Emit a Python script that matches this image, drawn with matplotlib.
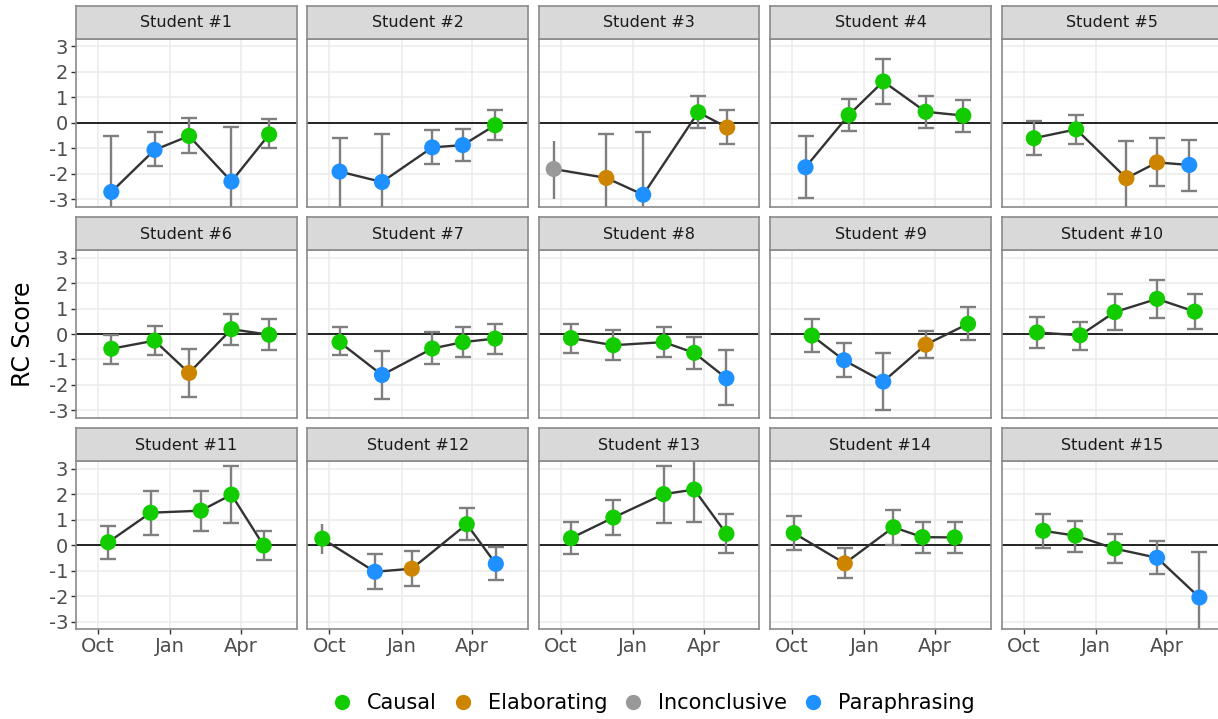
import matplotlib
matplotlib.use("Agg")
import matplotlib.pyplot as plt
from matplotlib.lines import Line2D
import numpy as np
import pandas as pd

# ---------------------------------------------------------------- data
students = [f"Student #{i}" for i in range(1, 16)]

# Session dates used by each class group
schedules = {
    "A": ["2018-10-18", "2018-12-12", "2019-01-25", "2019-03-20", "2019-05-07"],
    "B": ["2018-10-14", "2018-12-07", "2019-02-09", "2019-03-20", "2019-04-30"],
    "C": ["2018-09-22", "2018-11-28", "2019-01-14", "2019-03-25", "2019-05-01"],
    "D": ["2018-10-26", "2018-12-06", "2019-01-25", "2019-03-20", "2019-05-13"],
    "E": ["2018-10-03", "2018-12-07", "2019-02-07", "2019-03-16", "2019-04-26"],
}
student_schedule = ["A", "B", "C", "A", "B", "A", "B", "B", "D", "A",
                    "B", "C", "B", "E", "D"]

rc_score = [
    [-2.72, -1.07, -0.52, -2.31, -0.46],
    [-1.92, -2.33, -0.97, -0.88, -0.10],
    [-1.82, -2.17, -2.83, 0.41, -0.19],
    [-1.75, 0.30, 1.62, 0.43, 0.28],
    [-0.61, -0.26, -2.18, -1.56, -1.66],
    [-0.58, -0.26, -1.53, 0.19, -0.03],
    [-0.32, -1.61, -0.57, -0.32, -0.18],
    [-0.16, -0.44, -0.32, -0.74, -1.74],
    [-0.06, -1.03, -1.87, -0.42, 0.40],
    [0.06, -0.05, 0.86, 1.38, 0.88],
    [0.12, 1.28, 1.36, 1.99, -0.01],
    [0.26, -1.04, -0.92, 0.83, -0.73],
    [0.28, 1.09, 2.01, 2.19, 0.45],
    [0.48, -0.71, 0.71, 0.32, 0.31],
    [0.57, 0.38, -0.13, -0.49, -2.05],
]
ci_low = [
    [-4.92, -1.69, -1.19, -4.45, -1.01],
    [-3.40, -4.20, -1.62, -1.52, -0.68],
    [-2.98, -3.91, -5.29, -0.19, -0.82],
    [-2.96, -0.33, 0.75, -0.22, -0.37],
    [-1.26, -0.84, -3.64, -2.47, -2.70],
    [-1.16, -0.83, -2.49, -0.42, -0.61],
    [-0.83, -2.55, -1.19, -0.90, -0.77],
    [-0.74, -1.03, -0.91, -1.39, -2.78],
    [-0.70, -1.69, -3.00, -0.96, -0.25],
    [-0.55, -0.64, 0.14, 0.61, 0.21],
    [-0.52, 0.41, 0.58, 0.89, -0.58],
    [-0.34, -1.72, -1.59, 0.19, -1.37],
    [-0.36, 0.39, 0.89, 0.93, -0.30],
    [-0.17, -1.30, 0.03, -0.30, -0.31],
    [-0.10, -0.26, -0.69, -1.14, -3.83],
]
ci_high = [
    [-0.52, -0.37, 0.17, -0.17, 0.13],
    [-0.62, -0.46, -0.30, -0.26, 0.48],
    [-0.72, -0.43, -0.37, 1.04, 0.48],
    [-0.52, 0.95, 2.49, 1.04, 0.91],
    [0.05, 0.30, -0.72, -0.62, -0.68],
    [-0.04, 0.32, -0.58, 0.78, 0.60],
    [0.27, -0.65, 0.06, 0.27, 0.40],
    [0.40, 0.14, 0.26, -0.12, -0.61],
    [0.58, -0.35, -0.74, 0.13, 1.05],
    [0.66, 0.49, 1.57, 2.14, 1.56],
    [0.76, 2.12, 2.14, 3.11, 0.57],
    [0.83, -0.36, -0.23, 1.45, -0.08],
    [0.91, 1.78, 3.11, 3.45, 1.23],
    [1.17, -0.10, 1.39, 0.93, 0.93],
    [1.23, 0.97, 0.44, 0.18, -0.27],
]
response_type = [
    ["Paraphrasing", "Paraphrasing", "Causal", "Paraphrasing", "Causal"],
    ["Paraphrasing", "Paraphrasing", "Paraphrasing", "Paraphrasing", "Causal"],
    ["Inconclusive", "Elaborating", "Paraphrasing", "Causal", "Elaborating"],
    ["Paraphrasing", "Causal", "Causal", "Causal", "Causal"],
    ["Causal", "Causal", "Elaborating", "Elaborating", "Paraphrasing"],
    ["Causal", "Causal", "Elaborating", "Causal", "Causal"],
    ["Causal", "Paraphrasing", "Causal", "Causal", "Causal"],
    ["Causal", "Causal", "Causal", "Causal", "Paraphrasing"],
    ["Causal", "Paraphrasing", "Paraphrasing", "Elaborating", "Causal"],
    ["Causal", "Causal", "Causal", "Causal", "Causal"],
    ["Causal", "Causal", "Causal", "Causal", "Causal"],
    ["Causal", "Paraphrasing", "Elaborating", "Causal", "Paraphrasing"],
    ["Causal", "Causal", "Causal", "Causal", "Causal"],
    ["Causal", "Elaborating", "Causal", "Causal", "Causal"],
    ["Causal", "Causal", "Causal", "Paraphrasing", "Paraphrasing"],
]
categories = ["Causal", "Elaborating", "Inconclusive", "Paraphrasing"]
palette = {"Causal": "#12CC00", "Elaborating": "#CD8500",
           "Inconclusive": "#999999", "Paraphrasing": "#1E90FF"}

month_ticks = ["2018-10-01", "2019-01-01", "2019-04-01"]
month_labels = ["Oct", "Jan", "Apr"]
x_range = ["2018-09-03", "2019-06-11"]
y_ticks = [-3, -2, -1, 0, 1, 2, 3]
y_range = (-3.3, 3.3)

# ---------------------------------------------------------------- layout
W, H = 1218, 719
fig = plt.figure(figsize=(W / 100, H / 100), dpi=100)
fig.patch.set_facecolor("white")

panel_w, panel_h, strip_h = 220.6, 168.0, 33.0
col_pitch, row_pitch = 231.4, 211.3
left0, top0 = 76.0, 38.7
border = "#8A8A8A"

xt = pd.to_datetime(month_ticks)
xlim = pd.to_datetime(x_range)

for i, name in enumerate(students):
    r, c = divmod(i, 5)
    left = left0 + c * col_pitch
    top = top0 + r * row_pitch

    ax = fig.add_axes([left / W, 1 - (top + panel_h) / H, panel_w / W, panel_h / H])
    sax = fig.add_axes([left / W, 1 - top / H, panel_w / W, strip_h / H])

    # strip header
    sax.set_facecolor("#D9D9D9")
    sax.set_xticks([])
    sax.set_yticks([])
    for sp in sax.spines.values():
        sp.set_color(border)
        sp.set_linewidth(1.2)
    sax.text(0.5, 0.48, name, ha="center", va="center", fontsize=11.5,
             color="#1A1A1A", transform=sax.transAxes)

    dates = pd.to_datetime(schedules[student_schedule[i]])
    m = np.array(rc_score[i])
    lo = np.array(ci_low[i])
    hi = np.array(ci_high[i])
    kinds = response_type[i]

    ax.set_axisbelow(True)
    ax.grid(True, color="#EBEBEB", linewidth=1.1)
    ax.axhline(0, color="black", linewidth=1.2, zorder=1.5)

    # confidence intervals; the earliest autumn session of group C has no caps
    capped = np.ones(len(m), dtype=bool)
    if student_schedule[i] == "C":
        capped[0] = False
    for mask, cap in ((capped, 6), (~capped, 0)):
        if mask.any():
            ax.errorbar(dates[mask], m[mask],
                        yerr=[m[mask] - lo[mask], hi[mask] - m[mask]],
                        fmt="none", ecolor="#7F7F7F", elinewidth=1.7,
                        capsize=cap, capthick=1.7, zorder=2)

    ax.plot(dates, m, color="#333333", linewidth=1.7, zorder=2.5)
    ax.scatter(dates, m, c=[palette[k] for k in kinds], s=135,
               edgecolors="none", zorder=3)

    ax.set_xlim(xlim[0], xlim[1])
    ax.set_ylim(*y_range)
    ax.set_xticks(xt)
    ax.set_xticklabels(month_labels)
    ax.set_yticks(y_ticks)
    ax.set_yticklabels([str(v) for v in y_ticks])
    ax.tick_params(axis="both", labelsize=14, labelcolor="#4D4D4D",
                   color="#333333", length=3.5, width=1.0, pad=2)
    ax.tick_params(left=(c == 0), labelleft=(c == 0),
                   bottom=(r == 2), labelbottom=(r == 2))
    for sp in ax.spines.values():
        sp.set_color(border)
        sp.set_linewidth(1.2)

fig.text(22.7 / W, 1 - 334 / H, "RC Score", rotation=90, ha="center",
         va="center", fontsize=17, color="black")

handles = [Line2D([], [], linestyle="none", marker="o", markersize=11,
                  markerfacecolor=palette[k], markeredgecolor="none", label=k)
           for k in categories]
fig.legend(handles=handles, loc="center", ncol=4, frameon=False,
           bbox_to_anchor=(653 / W, 1 - 703 / H), fontsize=15,
           handlelength=1.0, handletextpad=0.7, columnspacing=0.75)

fig.savefig("out.png", dpi=100, facecolor="white")
